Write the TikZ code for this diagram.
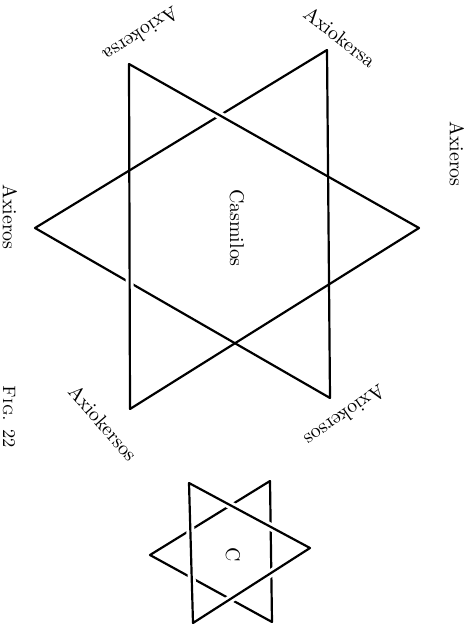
\documentclass[tikz,border=0pt]{standalone}
\usepackage{tikz}
\usetikzlibrary{calc}

\begin{document}
\begin{tikzpicture}[x=0.5bp,y=-0.5bp,line width=1.1pt,line join=round,
	halo/.style={draw=white,line width=4pt},
	lab/.style={inner sep=0pt}]
	\useasboundingbox (0,0) rectangle (468,628);
	% large star
	\coordinate (lt) at (35,228);
	\coordinate (tr) at (327,50);
	\coordinate (br) at (330,398);
	\coordinate (tl) at (129,64);
	\coordinate (rt) at (419,228);
	\coordinate (bl) at (130,409);
	\draw (lt) -- (tr) -- (br) -- cycle;
	\path[halo] ($(tl)!0.25!(rt)$) -- ($(tl)!0.42!(rt)$);
	\path[halo] ($(tl)!0.6!(bl)$) -- ($(tl)!0.72!(bl)$);
	\draw (tl) -- (rt) -- (bl) -- cycle;

	\node[lab,rotate=213] (kersa_l) at (141,35) {Axiokersa};
	\node[lab,rotate=-38] (kersa_r) at (340,37) {Axiokersa};
	\node[lab,rotate=-90] (eros_r) at (457,154) {Axieros};
	\node[lab,rotate=-90] (eros_l) at (10,217) {Axieros};
	\node[lab,rotate=-90] (casmilos) at (237,228) {Casmilos};
	\node[lab,rotate=-49] (kersos_l) at (103,423) {Axiokersos};
	\node[lab,rotate=215] (kersos_r) at (345,416) {Axiokersos};
	\node[lab,rotate=-90,font=\small] (fig) at (9,417) {\textsc{Fig.} 22};

	% small star
	\coordinate (slt) at (150,555);
	\coordinate (str) at (270,481);
	\coordinate (sbr) at (272,622);
	\coordinate (stl) at (189,483);
	\coordinate (srt) at (310,548);
	\coordinate (sbl) at (193,623);
	\draw (slt) -- (str) -- (sbr) -- cycle;
	\draw[preaction={halo}] (stl) -- (srt) -- (sbl) -- cycle;
	\node[lab,rotate=-90] (c) at (233,555) {C};
\end{tikzpicture}
\end{document}
